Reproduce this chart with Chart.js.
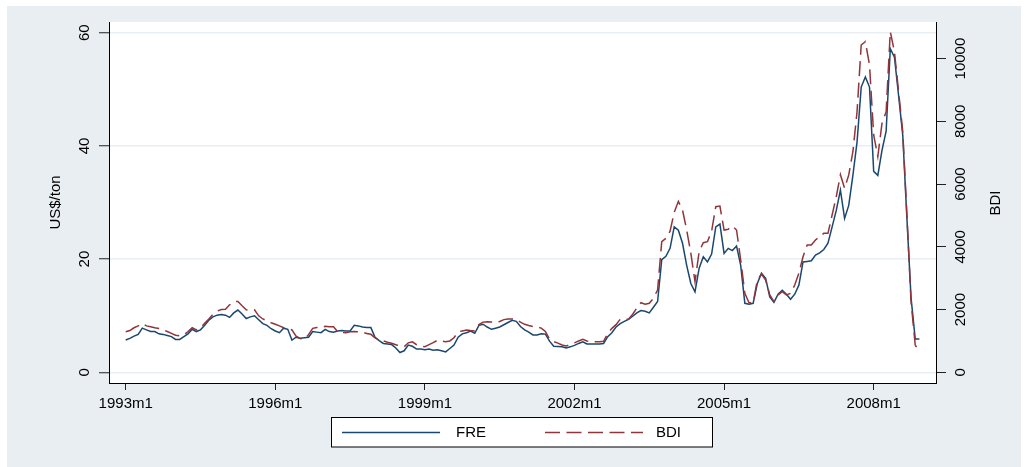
<!DOCTYPE html>
<html>
<head>
<meta charset="utf-8">
<script src="https://cdn.jsdelivr.net/npm/chart.js@4.4.1/dist/chart.umd.min.js"></script>
<style>
  html, body { margin: 0; padding: 0; background: #fff; }
  #wrap { width: 1029px; height: 467px; position: relative; }
</style>
</head>
<body>
<div id="wrap"><canvas id="chart"></canvas></div>
<script>
// monthly series, 1993m1 .. 2008m12
const startYear = 1993;
const fre = [
  5.7, 6.0, 6.4, 6.7, 7.8, 7.5, 7.2, 7.2, 6.8, 6.7, 6.5, 6.3,
  5.8, 5.8, 6.3, 6.8, 7.6, 7.2, 7.5, 8.3, 9.2, 9.8, 10.1, 10.2,
  10.1, 9.7, 10.5, 11.0, 10.3, 9.5, 9.8, 10.0, 9.3, 8.6, 8.3, 7.7,
  7.3, 7.0, 7.8, 7.6, 5.7, 6.2, 6.0, 6.1, 6.2, 7.2, 7.1, 7.0,
  7.6, 7.2, 7.1, 7.3, 7.4, 7.3, 7.3, 8.3, 8.2, 8.0, 7.9, 7.9,
  6.2, 5.6, 5.1, 5.0, 4.9, 4.3, 3.5, 3.8, 4.8, 4.6, 4.1, 4.1,
  4.0, 4.1, 3.9, 4.0, 3.8, 3.6, 4.2, 4.8, 6.2, 6.8, 7.0, 7.3,
  6.9, 8.3, 8.5, 8.0, 7.6, 7.8, 8.0, 8.4, 8.8, 9.2, 9.0, 8.1,
  7.5, 7.1, 6.6, 6.6, 6.8, 6.75, 5.5, 4.6, 4.55, 4.5, 4.3, 4.5,
  4.75, 5.1, 5.4, 5.0, 5.0, 5.0, 5.0, 5.1, 6.3, 7.0, 8.0, 8.6,
  9.0, 9.35, 9.9, 10.5, 10.9, 10.8, 10.5, 11.5, 12.5, 19.9, 20.5, 21.9,
  25.7, 25.1, 22.8, 18.9, 15.7, 14.2, 18.4, 20.4, 19.5, 20.9, 25.7, 26.2,
  21.0, 21.9, 21.5, 22.3, 18.9, 12.2, 12.05, 12.2, 15.7, 17.5, 16.6, 13.3,
  12.35, 13.8, 14.5, 13.8, 12.9, 13.8, 15.4, 19.5, 19.6, 19.7, 20.7, 21.1,
  21.7, 22.8, 25.7, 28.6, 32.2, 27.2, 29.5, 34.8, 40.7, 50.4, 52.2, 50.4,
  35.5, 34.8, 39.2, 42.6, 57.2, 55.7, 48.9, 41.9, 27.2, 13.1, 5.9, 5.9
];
const bdi = [
  1294, 1330, 1420, 1480, 1560, 1480, 1450, 1420, 1400, 1360, 1300, 1240,
  1180, 1160, 1190, 1300, 1420, 1350, 1420, 1560, 1700, 1850, 1950, 2000,
  2010, 2150, 2250, 2260, 2120, 1990, 1980, 1990, 1800, 1700, 1640, 1580,
  1530, 1480, 1420, 1400, 1350, 1150, 1080, 1050, 1200, 1400, 1430, 1420,
  1470, 1450, 1450, 1300, 1270, 1262, 1290, 1300, 1294, 1270, 1240, 1211,
  1100, 1030, 1000, 960, 924, 880, 838, 814, 940, 970, 880, 840,
  814, 880, 944, 1020, 1000, 976, 1000, 1100, 1290, 1320, 1348, 1330,
  1316, 1520, 1600, 1613, 1600, 1580, 1620, 1680, 1699, 1700, 1690, 1600,
  1530, 1490, 1460, 1450, 1410, 1300, 1060, 980, 930, 870, 840, 880,
  940, 1000, 1052, 1000, 976, 976, 976, 990, 1240, 1400, 1520, 1690,
  1700, 1690, 1850, 2050, 2219, 2170, 2200, 2360, 2624, 4164, 4271, 4500,
  5100, 5450, 5173, 4536, 3800, 2888, 3850, 4132, 4164, 4500, 5279, 5301,
  4536, 4560, 4664, 4536, 3580, 2518, 2219, 2219, 2942, 3133, 2942, 2464,
  2251, 2464, 2570, 2464, 2518, 2783, 3156, 3685, 4058, 4058, 4217, 4323,
  4431, 4431, 5014, 5598, 6300, 5865, 6290, 7032, 8307, 10433, 10539, 9796,
  7565, 6873, 7937, 8307, 10858, 10220, 8945, 7670, 5014, 2251, 870, 657
];
const xTickLabels = ['1993m1', '1996m1', '1999m1', '2002m1', '2005m1', '2008m1'];
const freTicks = [0, 20, 40, 60];
const bdiTicks = [0, 2000, 4000, 6000, 8000, 10000];

const months = fre.map((v, i) => (startYear + Math.floor(i / 12)) + 'm' + (i % 12 + 1));
const xTickPos = xTickLabels.map(l => months.indexOf(l));

const navy = '#1A476F';
const maroon = '#90353B';
const panel = '#E8EEF1';

Chart.defaults.font.family = '"Liberation Sans", Arial, sans-serif';
Chart.defaults.font.size = 15;
Chart.defaults.color = '#000';

const backdrop = {
  id: 'backdrop',
  beforeDraw(chart) {
    const {ctx, chartArea: a} = chart;
    ctx.save();
    ctx.fillStyle = '#fff';
    ctx.fillRect(0, 0, chart.width, chart.height);
    ctx.fillStyle = panel;
    ctx.fillRect(7, 6, 1014, chart.height - 6);
    ctx.fillStyle = '#fff';
    ctx.fillRect(a.left, a.top, a.right - a.left, a.bottom - a.top);
    ctx.restore();
  }
};

const legendBox = {
  id: 'legendBox',
  afterDraw(chart) {
    const ctx = chart.ctx;
    const ds = chart.data.datasets;
    ctx.save();
    ctx.fillStyle = '#fff';
    ctx.fillRect(331.5, 417.5, 381, 29.5);
    ctx.strokeStyle = '#000';
    ctx.lineWidth = 1;
    ctx.strokeRect(331.5, 417.5, 381, 29.5);

    ctx.lineWidth = 1.5;
    ctx.strokeStyle = ds[0].borderColor;
    ctx.beginPath(); ctx.moveTo(342, 432.5); ctx.lineTo(440, 432.5); ctx.stroke();
    ctx.strokeStyle = ds[1].borderColor;
    ctx.setLineDash(ds[1].borderDash);
    ctx.beginPath(); ctx.moveTo(545, 432.5); ctx.lineTo(643, 432.5); ctx.stroke();
    ctx.setLineDash([]);

    ctx.fillStyle = '#000';
    ctx.font = '15px "Liberation Sans", Arial, sans-serif';
    ctx.textBaseline = 'middle';
    ctx.textAlign = 'left';
    ctx.fillText(ds[0].label, 456, 433);
    ctx.fillText(ds[1].label, 656, 433);

    // right axis title, reading bottom to top like the left one
    ctx.translate(996, 203);
    ctx.rotate(-Math.PI / 2);
    ctx.textAlign = 'center';
    ctx.fillText('BDI', 0, 0);
    ctx.restore();
  }
};

new Chart(document.getElementById('chart'), {
  type: 'line',
  data: {
    datasets: [
      {
        label: 'FRE',
        data: fre.map((v, i) => ({x: i, y: v})),
        yAxisID: 'y',
        borderColor: navy,
        borderWidth: 1.5,
        pointRadius: 0,
        tension: 0,
        order: 2
      },
      {
        label: 'BDI',
        data: bdi.map((v, i) => ({x: i, y: v})),
        yAxisID: 'y2',
        borderColor: maroon,
        borderWidth: 1.5,
        borderDash: [15, 6.5],
        pointRadius: 0,
        tension: 0,
        order: 1
      }
    ]
  },
  options: {
    responsive: true,
    maintainAspectRatio: false,
    animation: false,
    layout: { padding: { top: 22, left: 0, right: 0, bottom: 0 } },
    plugins: { legend: { display: false }, tooltip: { enabled: false } },
    scales: {
      x: {
        type: 'linear',
        min: -4.02,
        max: 195,
        afterBuildTicks: s => { s.ticks = xTickPos.map(v => ({value: v})); },
        ticks: { callback: v => months[v], padding: 5, maxRotation: 0, autoSkip: false },
        grid: { drawOnChartArea: false, tickLength: 7, tickColor: '#222', tickWidth: 1 },
        border: { color: '#000', width: 1 },
        afterFit: s => { s.height = 84; }
      },
      y: {
        position: 'left',
        min: -1.89,
        max: 61.9,
        afterBuildTicks: s => { s.ticks = freTicks.map(v => ({value: v})); },
        ticks: { callback: v => String(v), minRotation: 90, maxRotation: 90, crossAlign: 'center', padding: 6 },
        grid: { color: panel, lineWidth: 1.5, tickLength: 10, tickColor: '#222', tickWidth: 1 },
        border: { color: '#000', width: 1 },
        title: { display: true, text: 'US$/ton', padding: { top: 46.5, bottom: 0 } },
        afterFit: s => { s.width = 109; }
      },
      y2: {
        position: 'right',
        min: -341,
        max: 11167,
        afterBuildTicks: s => { s.ticks = bdiTicks.map(v => ({value: v})); },
        ticks: { callback: v => String(v), minRotation: 90, maxRotation: 90, crossAlign: 'center', padding: -5.85 },
        grid: { drawOnChartArea: false, tickLength: 10, tickColor: '#222', tickWidth: 1 },
        border: { color: '#000', width: 1 },
        afterFit: s => { s.width = 93; }
      }
    }
  },
  plugins: [backdrop, legendBox]
});
</script>
</body>
</html>
